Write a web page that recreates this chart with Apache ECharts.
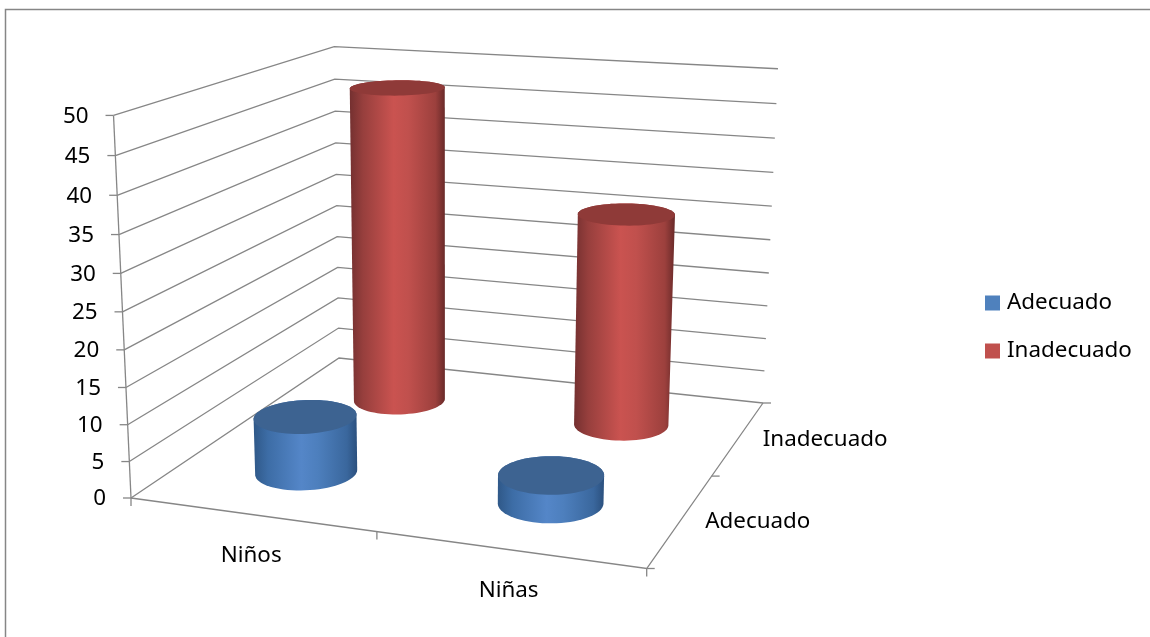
<!DOCTYPE html>
<html lang="es">
<head>
<meta charset="utf-8">
<title>Adecuado / Inadecuado</title>
<style>
  html, body { margin: 0; padding: 0; background: #fff; }
  #chart { width: 1150px; height: 637px; }
</style>
<script src="https://cdn.jsdelivr.net/npm/echarts@6/dist/echarts.min.js"></script>
</head>
<body>
<div id="chart"></div>
<script>
// Chart data
const categories = ['Niños', 'Niñas'];
const depthLabels = ['Adecuado', 'Inadecuado'];
const adecuado = [7.8, 3.8];
const inadecuado = [47, 31];
const yTicks = [0, 5, 10, 15, 20, 25, 30, 35, 40, 45, 50];

// Perspective box: floor corners and top corners of the walls, in page pixels
const floorCorners = [[131, 498], [646.7, 568.5], [763, 403], [339, 358]];
const topCorners = [[0, 0, 115, 120], [0, 1, 333, 44.7], [1, 1, 778, 67]];

const FONT = '"Noto Sans"';
const FONT_SIZE = 22.4;
const LINE = '#868686';
const BAR_SHARE = 0.392;    // cylinder diameter as a share of a category band
const DEPTH_RATIO = 1.1;    // floor width over floor depth

const palettes = {
  Adecuado: {
    cap: '#3d6391',
    legend: '#4f81bd',
    stops: ['#2f5888', '#3d6da6', '#5486c8', '#4d7fbd', '#3a679d', '#2b507e']
  },
  Inadecuado: {
    cap: '#8f3a38',
    legend: '#c0504d',
    stops: ['#743030', '#973f3d', '#ca5350', '#c0504d', '#9c403d', '#692a29']
  }
};
const stopOffsets = [0, 0.14, 0.46, 0.62, 0.9, 1];

// Solve a 3x3 linear system by Gaussian elimination
function solve3(m, y) {
  const a = m.map((r, i) => r.concat(y[i]));
  for (let i = 0; i < 3; i++) {
    let piv = i;
    for (let k = i + 1; k < 3; k++) if (Math.abs(a[k][i]) > Math.abs(a[piv][i])) piv = k;
    [a[i], a[piv]] = [a[piv], a[i]];
    for (let k = 0; k < 3; k++) {
      if (k === i) continue;
      const f = a[k][i] / a[i][i];
      for (let j = i; j < 4; j++) a[k][j] -= f * a[i][j];
    }
  }
  return [a[0][3] / a[0][0], a[1][3] / a[1][1], a[2][3] / a[2][2]];
}

// Camera: floor homography plus a height column fitted by least squares
function buildCamera() {
  const [p0, p1, p2, p3] = floorCorners;
  const dx1 = p1[0] - p2[0], dx2 = p3[0] - p2[0], sx = p0[0] - p1[0] + p2[0] - p3[0];
  const dy1 = p1[1] - p2[1], dy2 = p3[1] - p2[1], sy = p0[1] - p1[1] + p2[1] - p3[1];
  const den = dx1 * dy2 - dx2 * dy1;
  const g = (sx * dy2 - dx2 * sy) / den;
  const h = (dx1 * sy - sx * dy1) / den;
  const a = p1[0] - p0[0] + g * p1[0], b = p3[0] - p0[0] + h * p3[0], c = p0[0];
  const d = p1[1] - p0[1] + g * p1[1], e = p3[1] - p0[1] + h * p3[1], f = p0[1];
  const rows = [], rhs = [];
  topCorners.forEach(([u, v, X, Y]) => {
    const D = g * u + h * v + 1;
    rows.push([1, 0, -X]); rhs.push(X * D - (a * u + b * v + c));
    rows.push([0, 1, -Y]); rhs.push(Y * D - (d * u + e * v + f));
  });
  const ata = [0, 1, 2].map(i => [0, 1, 2].map(j => rows.reduce((s, r) => s + r[i] * r[j], 0)));
  const atb = [0, 1, 2].map(i => rows.reduce((s, r, k) => s + r[i] * rhs[k], 0));
  const [p, q, r] = solve3(ata, atb);
  return (u, v, w) => {
    const D = g * u + h * v + 1 + r * w;
    return [(a * u + b * v + c + p * w) / D, (d * u + e * v + f + q * w) / D];
  };
}
const project = buildCamera();

// Read normalised box coordinates from the axes of the hidden grid
function toBox(params, point) {
  const cs = params.coordSys;
  return [(point[0] - cs.x) / cs.width, (cs.y + cs.height - point[1]) / cs.height];
}

function lineEl(points, width) {
  return {
    type: 'polyline',
    shape: { points },
    style: { stroke: LINE, lineWidth: width || 1.3, fill: null },
    silent: true
  };
}

function textEl(text, x, y, align) {
  return {
    type: 'text',
    x, y,
    style: {
      text, x: 0, y: 0,
      font: FONT_SIZE + 'px ' + FONT,
      fill: '#000',
      align: align || 'center',
      verticalAlign: 'middle'
    },
    silent: true
  };
}

// Upper and lower convex hull of a point set
function hull(points) {
  const pts = points.slice().sort((a, b) => a[0] - b[0] || a[1] - b[1]);
  const cross = (o, a, b) => (a[0] - o[0]) * (b[1] - o[1]) - (a[1] - o[1]) * (b[0] - o[0]);
  const half = list => {
    const out = [];
    list.forEach(p => {
      while (out.length > 1 && cross(out[out.length - 2], out[out.length - 1], p) <= 0) out.pop();
      out.push(p);
    });
    out.pop();
    return out;
  };
  return half(pts).concat(half(pts.slice().reverse()));
}

// One cylinder per datum, standing on the floor at its category and depth row
function cylinderRenderer(name) {
  const depth = (depthLabels.indexOf(name) + 0.5) / depthLabels.length;
  const pal = palettes[name];
  return (params, api) => {
    const cat = api.value(0), val = api.value(1);
    const [u, w] = toBox(params, api.coord([cat, val]));
    const ru = api.size([1, 0])[0] / params.coordSys.width * BAR_SHARE / 2;
    const rv = ru * DEPTH_RATIO;
    const ring = h => {
      const pts = [];
      for (let i = 0; i < 72; i++) {
        const t = i / 72 * Math.PI * 2;
        pts.push(project(u + ru * Math.cos(t), depth + rv * Math.sin(t), h));
      }
      return pts;
    };
    const base = ring(0), top = ring(w);
    return {
      type: 'group',
      children: [
        {
          type: 'polygon',
          shape: { points: hull(base.concat(top)) },
          style: {
            fill: new echarts.graphic.LinearGradient(0, 0, 1, 0,
              pal.stops.map((color, i) => ({ offset: stopOffsets[i], color })))
          }
        },
        { type: 'polygon', shape: { points: top }, style: { fill: pal.cap } }
      ]
    };
  };
}

// Gridlines along both walls, with the value tick and label on the front edge
function gridRenderer(params, api) {
  const t = api.value(1);
  const [, w] = toBox(params, api.coord([0, t]));
  const front = project(0, 0, w), corner = project(0, 1, w), end = project(1, 1, w);
  return {
    type: 'group',
    children: [
      lineEl([front, corner, end]),
      lineEl([front, [front[0] - 8, front[1]]]),
      textEl(String(t), front[0] - 25, front[1] + 1, 'right')
    ]
  };
}

// Floor edges, category and depth ticks and their labels
function floorRenderer() {
  const children = [
    lineEl([project(0, 0, 1), project(0, 0, 0)]),
    lineEl([project(0, 0, 0), project(1, 0, 0), project(1, 1, 0)])
  ];
  [0, 0.5, 1].forEach(u => {
    const p = project(u, 0, 0);
    children.push(lineEl([p, [p[0], p[1] + 8]]));
  });
  [0, 0.5, 1].forEach(v => {
    const p = project(1, v, 0);
    children.push(lineEl([p, [p[0] + 8, p[1]]]));
  });
  categories.forEach((name, i) => {
    const p = project((i + 0.5) / categories.length, 0, 0);
    children.push(textEl(name, p[0], p[1] + 41.5));
  });
  depthLabels.forEach((name, i) => {
    const p = project(1, (i + 0.5) / depthLabels.length, 0);
    children.push(textEl(name, p[0] + 24, p[1] + 2.5, 'left'));
  });
  return { type: 'group', children };
}

const chart = echarts.init(document.getElementById('chart'), null, { renderer: 'canvas' });
chart.setOption({
  animation: false,
  backgroundColor: '#fff',
  tooltip: { show: false },
  // The grid is a unit box for the scales; the camera places the result on the page
  grid: { left: 0, top: 0, width: 200, height: 200, containLabel: false },
  xAxis: { type: 'category', data: categories, show: false },
  yAxis: { type: 'value', min: 0, max: 50, interval: 5, show: false },
  legend: {
    data: depthLabels,
    orient: 'vertical',
    left: 985,
    top: 292,
    padding: 0,
    itemWidth: 15,
    itemHeight: 15,
    itemGap: 26,
    icon: 'rect',
    selectedMode: false,
    textStyle: { fontFamily: 'Noto Sans', fontSize: FONT_SIZE, lineHeight: 15, color: '#000', padding: [0, 0, 0, 2] }
  },
  graphic: [
    { type: 'polyline', shape: { points: [[5.5, 637], [5.5, 9.5], [1150, 9.5]] }, style: { stroke: LINE, lineWidth: 1.5, fill: null }, silent: true }
  ],
  series: [
    { name: 'grid', type: 'custom', coordinateSystem: 'cartesian2d', z: 1, silent: true,
      renderItem: gridRenderer, data: yTicks.map(t => [0, t]) },
    { name: 'floor', type: 'custom', coordinateSystem: 'cartesian2d', z: 1, silent: true,
      renderItem: floorRenderer, data: [[0, 0]] },
    { name: 'Adecuado', type: 'custom', coordinateSystem: 'cartesian2d', z: 3, silent: true,
      itemStyle: { color: palettes.Adecuado.legend },
      renderItem: cylinderRenderer('Adecuado'),
      encode: { x: 0, y: 1 }, data: adecuado.map((v, i) => [i, v]) },
    { name: 'Inadecuado', type: 'custom', coordinateSystem: 'cartesian2d', z: 2, silent: true,
      itemStyle: { color: palettes.Inadecuado.legend },
      renderItem: cylinderRenderer('Inadecuado'),
      encode: { x: 0, y: 1 }, data: inadecuado.map((v, i) => [i, v]) }
  ]
});
</script>
</body>
</html>
